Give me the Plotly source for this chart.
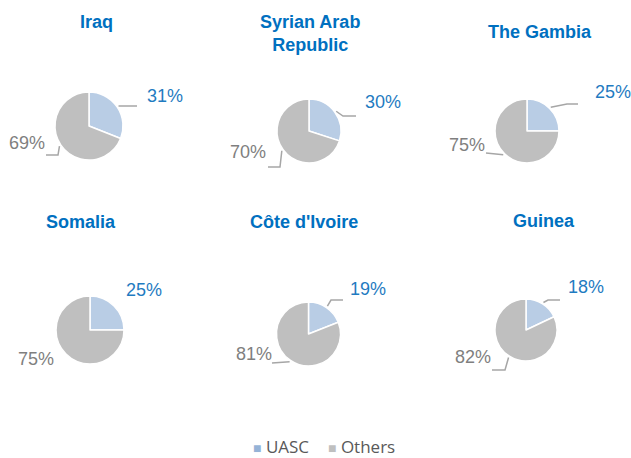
import math
import plotly.graph_objects as go

# ---- data ----
countries = ["Iraq", "Syrian Arab<br>Republic", "The Gambia", "Somalia", "Côte d'Ivoire", "Guinea"]
uasc = [31, 30, 25, 25, 19, 18]
others = [69, 70, 75, 75, 81, 82]
series_names = ["UASC", "Others"]

# ---- styling / layout (pixels) ----
W, H = 631, 458
slice_colors = ["#B9CDE5", "#BFBFBF"]
legend_colors = ["#95B3D7", "#BFBFBF"]
title_color = "#0070C0"
label_colors = ["#1F7BC1", "#7F7F7F"]
line_color = "#A6A6A6"
FONT = "Arial, Liberation Sans, sans-serif"

pie_geom = [(89, 126, 34), (309, 131, 32), (527, 131, 32),
            (90, 330, 34), (308.5, 334, 32), (526, 330, 31)]
title_pos = [(96, 22), (310, 33), (540, 32), (81, 222), (304, 222), (544, 221)]
u_label_pos = [(165, 96), (383, 102), (613, 92), (144, 290), (368, 289), (586, 287)]
o_label_pos = [(27, 143), (248, 152), (467, 145), (36, 359), (254, 354), (473, 357)]
# leader lines: (elbow, end) in pixels, None = no line
u_leader = [((121, 106), (137, 106)), ((343, 116), (356, 116)), ((567, 104), (578, 104)),
            None, ((331, 300), (343, 300)), ((548, 300), (560, 300))]
o_leader = [((58, 155), (46, 155)), ((280, 167), (268, 167)), (None, (486, 153)),
            None, (None, (272, 363)), ((505, 370), (492, 370))]
legend_pos = [(252, 446), (327, 446)]


def px(x, y):
    return x / W, 1 - y / H


fig = go.Figure()
annotations = []
shapes = []

for i, name in enumerate(countries):
    cx, cy, r = pie_geom[i]
    vals = [uasc[i], others[i]]
    fig.add_trace(go.Pie(
        labels=series_names, values=vals, sort=False, direction="clockwise",
        rotation=0, marker=dict(colors=slice_colors, line=dict(color="white", width=1.5)),
        textinfo="none", hoverinfo="label+percent", showlegend=False,
        domain=dict(x=[(cx - r) / W, (cx + r) / W], y=[1 - (cy + r) / H, 1 - (cy - r) / H]),
    ))
    tx, ty = px(*title_pos[i])
    annotations.append(dict(text=f"<b>{name}</b>", x=tx, y=ty, xref="paper", yref="paper",
                            xanchor="center", yanchor="middle",
                            showarrow=False, font=dict(family=FONT, size=18, color=title_color)))
    total = sum(vals)
    start = 0
    for j, v in enumerate(vals):
        mid = (start + v / 2) / total * 2 * math.pi
        start += v
        lp = (u_label_pos if j == 0 else o_label_pos)[i]
        lx, ly = px(*lp)
        annotations.append(dict(text=f"{round(v / total * 100)}%", x=lx, y=ly, xref="paper", yref="paper",
                                xanchor="center", yanchor="middle",
                                showarrow=False, font=dict(family=FONT, size=18, color=label_colors[j])))
        leader = (u_leader if j == 0 else o_leader)[i]
        if leader:
            sx, sy = cx + 1.05 * r * math.sin(mid), cy - 1.05 * r * math.cos(mid)
            pts = [(sx, sy)]
            if leader[0] is not None:
                pts.append(leader[0])
            pts.append(leader[1])
            path = "M " + " L ".join(f"{px(a, b)[0]:.5f},{px(a, b)[1]:.5f}" for a, b in pts)
            shapes.append(dict(type="path", path=path, xref="paper", yref="paper",
                               line=dict(color=line_color, width=1.5)))

# legend (drawn as text so its spacing matches the reference)
for k, nm in enumerate(series_names):
    lx, ly = px(*legend_pos[k])
    annotations.append(dict(
        text=f'<span style="color:{legend_colors[k]};font-size:14px">■</span> {nm}',
        x=lx, y=ly, xref="paper", yref="paper", xanchor="left", yanchor="middle",
        borderpad=0,
        showarrow=False, font=dict(family="Open Sans, sans-serif", size=17, color="#595959")))

fig.update_layout(
    width=W, height=H, margin=dict(l=0, r=0, t=0, b=0),
    paper_bgcolor="white", plot_bgcolor="white",
    annotations=annotations, shapes=shapes,
    showlegend=False,
)

fig.write_html("out.html", post_script="document.body.style.margin='0';",
               config={"displayModeBar": False})
